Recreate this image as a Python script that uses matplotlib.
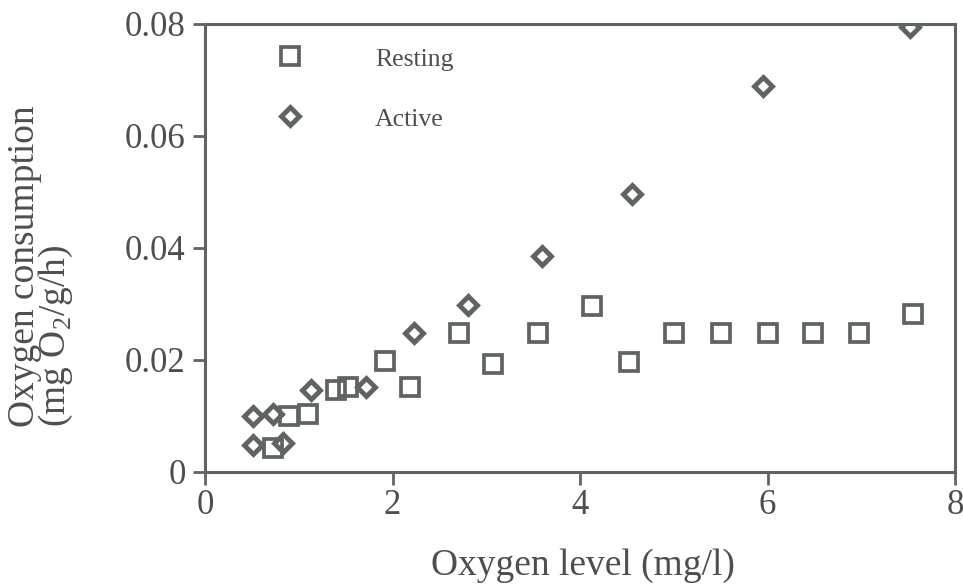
import matplotlib
matplotlib.use("Agg")
import matplotlib.pyplot as plt

# Data
resting_x = [0.72, 0.90, 1.10, 1.40, 1.53, 1.92, 2.19, 2.71, 3.07, 3.55, 4.13, 4.52, 5.00, 5.50, 6.00, 6.49, 6.98, 7.55]
resting_y = [0.0043, 0.0100, 0.0104, 0.0146, 0.0151, 0.0198, 0.0151, 0.0249, 0.0193, 0.0249, 0.0296, 0.0196, 0.0249, 0.0249, 0.0249, 0.0249, 0.0249, 0.0283]

active_x = [0.51, 0.83, 0.51, 0.72, 1.13, 1.72, 2.23, 2.81, 3.59, 4.55, 5.95, 7.52]
active_y = [0.0048, 0.0052, 0.0100, 0.0104, 0.0146, 0.0152, 0.0249, 0.0298, 0.0386, 0.0496, 0.0690, 0.0795]

x_ticks = [0, 2, 4, 6, 8]
y_ticks = [0, 0.02, 0.04, 0.06, 0.08]
y_tick_labels = ["0", "0.02", "0.04", "0.06", "0.08"]

series_names = ["Resting", "Active"]

plt.rcParams['font.family'] = ['Liberation Serif', 'DejaVu Serif']
plt.rcParams['mathtext.fontset'] = 'custom'
plt.rcParams['mathtext.rm'] = 'Liberation Serif'

ink = '#5e6560'
txt = '#4c4f4c'

W, H = 963, 588
fig = plt.figure(figsize=(W/100, H/100), dpi=100)
left, right, bottom, top = 205, 955, 472, 24
ax = fig.add_axes([left/W, 1-bottom/H, (right-left)/W, (bottom-top)/H])

sq_style = dict(linestyle='none', marker='s', markersize=13.5, markerfacecolor='none',
                markeredgecolor=ink, markeredgewidth=2.7)
di_style = dict(linestyle='none', marker='D', markersize=9.5, markerfacecolor='white',
                markeredgecolor=ink, markeredgewidth=3.5)

ax.plot(resting_x, resting_y, zorder=3, **sq_style)
ax.plot(active_x, active_y, zorder=2, **di_style)

ax.set_xlim(0, 8)
ax.set_ylim(0, 0.08)
ax.set_xticks(x_ticks)
ax.set_xticklabels([str(v) for v in x_ticks])
ax.set_yticks(y_ticks)
ax.set_yticklabels(y_tick_labels)

for s in ax.spines.values():
    s.set_color(ink)
    s.set_linewidth(2.2)

ax.tick_params(axis='both', direction='out', length=9, width=2, color=ink,
               labelsize=25, labelcolor=txt)
ax.tick_params(axis='x', pad=3)
ax.tick_params(axis='y', pad=5)

# legend drawn manually in axes coordinates
def ax_xy(px, py):
    return (px - left) / (right - left), (bottom - py) / (bottom - top)

lx, ly1 = ax_xy(290, 56)
_, ly2 = ax_xy(290, 116)
tx, ty1 = ax_xy(375, 60)
_, ty2 = ax_xy(375, 120)
ax.plot([lx], [ly1], transform=ax.transAxes, clip_on=False, **sq_style)
ax.plot([lx], [ly2], transform=ax.transAxes, clip_on=False, **di_style)
ax.text(tx, ty1, series_names[0], transform=ax.transAxes, fontsize=18.5, color=txt, va='center', ha='left')
ax.text(tx, ty2, series_names[1], transform=ax.transAxes, fontsize=18.5, color=txt, va='center', ha='left')

fig.text(583/W, 1-566/H, "Oxygen level (mg/l)", fontsize=27, color=txt, ha='center', va='center')
fig.text(41/W, 1-427/H, "Oxygen consumption\n(mg O$_\\mathregular{2}$/g/h)", fontsize=27, color=txt,
         ha='center', va='bottom', rotation=90, multialignment='left', linespacing=0.8)

fig.savefig("out.png", dpi=100, facecolor='white')
